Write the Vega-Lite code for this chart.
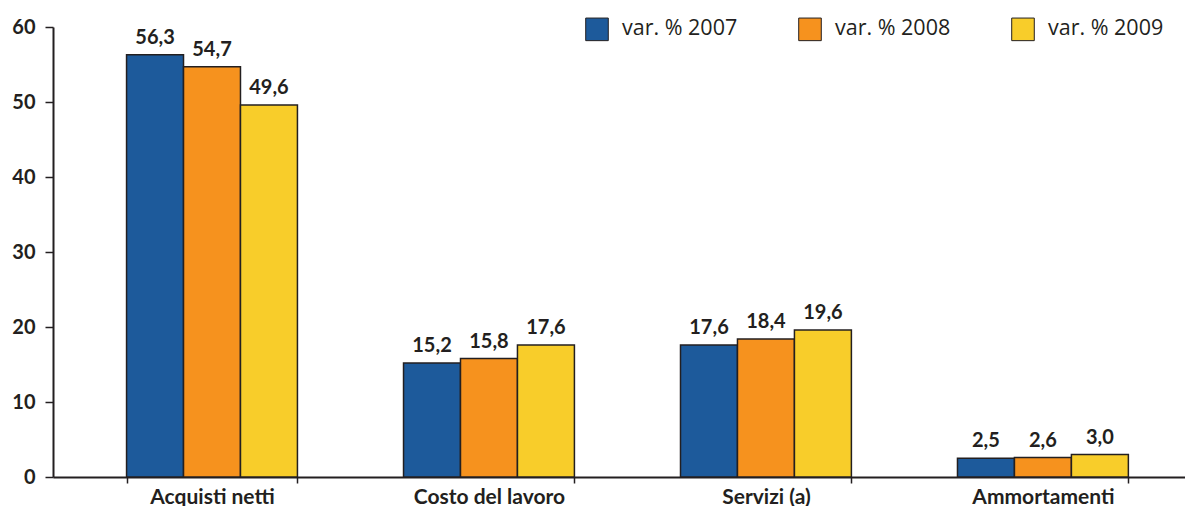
{
  "$schema": "https://vega.github.io/schema/vega-lite/v6.json",
  "autosize": {"type": "none"},
  "width": 1132,
  "height": 450,
  "padding": {"left": 53, "top": 27, "right": 0, "bottom": 29},
  "background": "white",
  "config": {
    "view": {"stroke": null},
    "font": "Lato",
    "locale": {"number": {"decimal": ",", "thousands": ".", "grouping": [3], "currency": ["€", ""]}}
  },
  "data": {
    "values": [
      {"voce": "Acquisti netti", "serie": "var. % 2007", "valore": 56.3},
      {"voce": "Acquisti netti", "serie": "var. % 2008", "valore": 54.7},
      {"voce": "Acquisti netti", "serie": "var. % 2009", "valore": 49.6},
      {"voce": "Costo del lavoro", "serie": "var. % 2007", "valore": 15.2},
      {"voce": "Costo del lavoro", "serie": "var. % 2008", "valore": 15.8},
      {"voce": "Costo del lavoro", "serie": "var. % 2009", "valore": 17.6},
      {"voce": "Servizi (a)", "serie": "var. % 2007", "valore": 17.6},
      {"voce": "Servizi (a)", "serie": "var. % 2008", "valore": 18.4},
      {"voce": "Servizi (a)", "serie": "var. % 2009", "valore": 19.6},
      {"voce": "Ammortamenti", "serie": "var. % 2007", "valore": 2.5},
      {"voce": "Ammortamenti", "serie": "var. % 2008", "valore": 2.6},
      {"voce": "Ammortamenti", "serie": "var. % 2009", "valore": 3.0}
    ]
  },
  "encoding": {
    "x": {
      "field": "voce",
      "type": "nominal",
      "sort": null,
      "scale": {"paddingInner": 0.383, "paddingOuter": 0.235, "align": 0.565},
      "axis": {
        "title": null,
        "labelAngle": 0,
        "labelFont": "Lato",
        "labelFontWeight": "bold",
        "labelFontSize": 21,
        "labelColor": "#231f20",
        "labelPadding": 3,
        "domainColor": "#231f20",
        "domainWidth": 2,
        "tickBand": "extent",
        "tickColor": "#231f20",
        "tickSize": 6,
        "tickWidth": 1.5
      }
    },
    "xOffset": {"field": "serie", "type": "nominal", "scale": {"paddingInner": 0, "paddingOuter": 0}},
    "y": {
      "field": "valore",
      "type": "quantitative",
      "scale": {"domain": [0, 60], "nice": false},
      "axis": {
        "title": null,
        "values": [0, 10, 20, 30, 40, 50, 60],
        "grid": false,
        "labelFont": "Lato",
        "labelFontWeight": "bold",
        "labelFontSize": 20,
        "labelColor": "#231f20",
        "labelPadding": 10,
        "domainColor": "#231f20",
        "domainWidth": 2,
        "tickColor": "#231f20",
        "tickSize": 8,
        "tickWidth": 1.5
      }
    }
  },
  "layer": [
    {
      "mark": {"type": "bar", "stroke": "#231f20", "strokeWidth": 1.5},
      "encoding": {
        "color": {
          "field": "serie",
          "type": "nominal",
          "scale": {"domain": ["var. % 2007", "var. % 2008", "var. % 2009"], "range": ["#1d5a9b", "#f6921e", "#f8cd2a"]},
          "legend": {
            "title": null,
            "orient": "none",
            "legendX": 532,
            "legendY": -10,
            "direction": "horizontal",
            "symbolType": "square",
            "symbolSize": 510,
            "symbolStrokeColor": "#231f20",
            "symbolStrokeWidth": 1,
            "symbolOpacity": 1,
            "labelFont": "Open Sans",
            "labelFontSize": 21.5,
            "labelColor": "#231f20",
            "labelOffset": 13,
            "columnPadding": 58,
            "labelLimit": 250
          }
        }
      }
    },
    {
      "mark": {"type": "text", "baseline": "bottom", "dy": -7, "font": "Lato", "fontWeight": "bold", "fontSize": 20, "color": "#231f20"},
      "encoding": {
        "text": {"field": "valore", "type": "quantitative", "format": ".1f"}
      }
    }
  ]
}
